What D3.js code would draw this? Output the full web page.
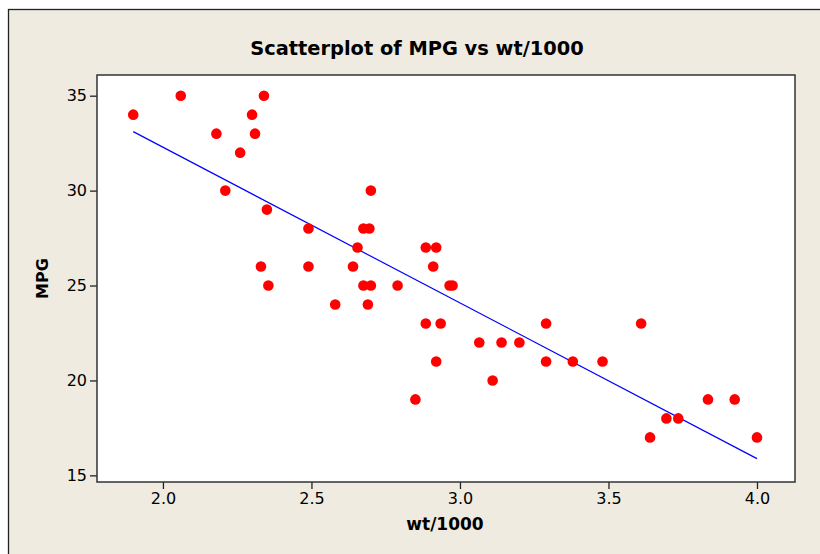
<!DOCTYPE html>
<html>
<head>
<meta charset="utf-8">
<script src="https://cdn.jsdelivr.net/npm/d3@7"></script>
<style>
  body { margin: 0; background: #ffffff; }
  text { font-family: Tahoma, "DejaVu Sans", sans-serif; fill: #000; }
</style>
</head>
<body>
<div id="chart-area"></div>
<script>
// values
let wt = [1.90, 2.06, 2.34, 2.30, 2.18, 2.31, 2.26, 2.21, 2.35, 2.49,
          2.70, 2.675, 2.695, 2.655, 2.33, 2.49, 2.64, 2.355, 2.675, 2.70,
          2.79, 2.58, 2.69, 2.885, 2.92, 2.91, 2.965, 2.975, 2.885, 2.935,
          3.065, 3.14, 3.20, 2.92, 3.11, 2.85, 3.29, 3.29, 3.38, 3.48,
          3.61, 3.835, 3.925, 3.695, 3.735, 3.64, 4.00]
let mpg = [34, 35, 35, 34, 33, 33, 32, 30, 29, 28,
           30, 28, 28, 27, 26, 26, 26, 25, 25, 25,
           25, 24, 24, 27, 27, 26, 25, 25, 23, 23,
           22, 22, 22, 21, 20, 19, 23, 21, 21, 21,
           23, 19, 19, 18, 18, 17, 17]
let xTicks = [2.0, 2.5, 3.0, 3.5, 4.0]
let yTicks = [15, 20, 25, 30, 35]

let W = 820, H = 554
let margin = {top: 75, right: 25, bottom: 72, left: 97}
let width = 795 - margin.left,
    height = 482 - margin.top

let svg = d3.select("#chart-area")
    .append("svg")
    .attr("width", W)
    .attr("height", H)

// outer frame
svg.append("rect")
    .attr("x", 8.5).attr("y", 9.5)
    .attr("width", W).attr("height", H)
    .style("fill", "#efebe1")
    .style("stroke", "#222")
    .style("stroke-width", 1.3)

let g = svg.append("g")
    .attr("transform", "translate(" + margin.left + "," + margin.top + ")")

let x = d3.scaleLinear().domain([1.778, 4.128]).range([0, width])
let y = d3.scaleLinear().domain([14.65, 36.09]).range([height, 0])

// plot area
g.append("rect")
    .attr("width", width).attr("height", height)
    .style("fill", "#fff")

// least squares fit
let mx = d3.mean(wt), my = d3.mean(mpg)
let sxy = d3.sum(wt, (d, i) => (d - mx) * (mpg[i] - my))
let sxx = d3.sum(wt, d => (d - mx) * (d - mx))
let slope = sxy / sxx, icpt = my - slope * mx
let ext = d3.extent(wt)

g.append("path")
    .attr("d", d3.line()(ext.map(v => [x(v), y(icpt + slope * v)])))
    .style("fill", "none")
    .style("stroke", "#0000ff")
    .style("stroke-width", 1.2)

g.selectAll("myDots")
    .data(wt)
    .enter()
    .append("circle")
    .attr("cx", d => x(d))
    .attr("cy", (d, i) => y(mpg[i]))
    .attr("r", 5.3)
    .style("fill", "#ff0000")

// axes
let xAxis = g.append("g")
    .attr("transform", "translate(0," + height + ")")
    .call(d3.axisBottom(x).tickValues(xTicks).tickFormat(d3.format(".1f")).tickSize(7).tickPadding(4))
let yAxis = g.append("g")
    .call(d3.axisLeft(y).tickValues(yTicks).tickSize(7).tickPadding(3))
;[xAxis, yAxis].forEach(a => {
    a.select(".domain").remove()
    a.selectAll("line").style("stroke", "#222").style("stroke-width", 1.3)
    a.selectAll("text").style("font-size", "16px").style("font-family", "Tahoma, 'DejaVu Sans', sans-serif")
})

// plot border
g.append("rect")
    .attr("width", width).attr("height", height)
    .style("fill", "none")
    .style("stroke", "#333")
    .style("stroke-width", 1.5)

svg.append("text")
    .attr("x", 417).attr("y", 55)
    .attr("text-anchor", "middle")
    .style("font-size", "19.4px").style("font-weight", "bold")
    .text("Scatterplot of MPG vs wt/1000")

svg.append("text")
    .attr("x", 445).attr("y", 530)
    .attr("text-anchor", "middle")
    .style("font-size", "17px").style("font-weight", "bold")
    .text("wt/1000")

svg.append("text")
    .attr("transform", "translate(48," + (margin.top + height / 2) + ") rotate(-90)")
    .attr("text-anchor", "middle")
    .style("font-size", "16px").style("font-weight", "bold")
    .text("MPG")
</script>
</body>
</html>
